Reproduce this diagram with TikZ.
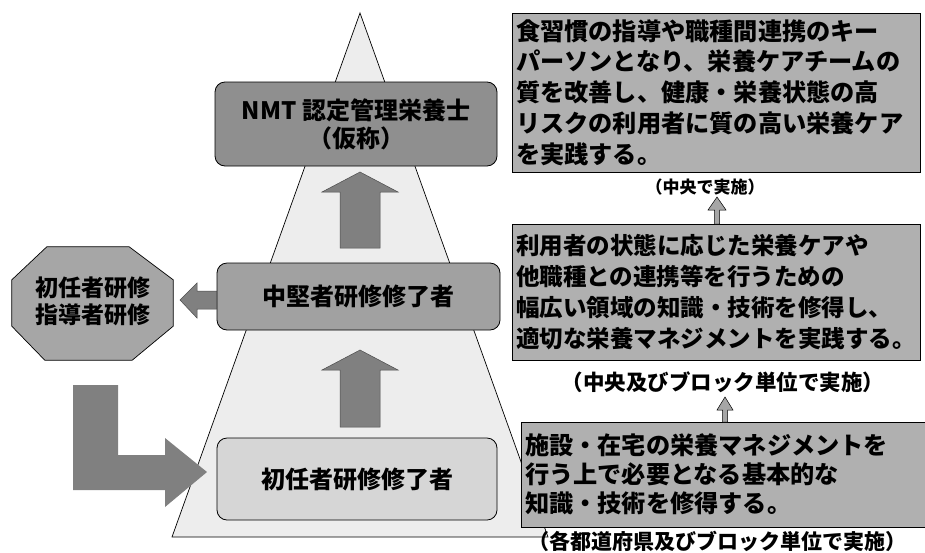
\documentclass[tikz,border=0pt]{standalone}
\usepackage{fontspec}
\setmainfont{Noto Sans CJK JP}
\usetikzlibrary{calc}
\definecolor{trifill}{gray}{0.93}
\definecolor{nmtfill}{gray}{0.56}
\definecolor{midfill}{gray}{0.63}
\definecolor{botfill}{gray}{0.84}
\definecolor{octfill}{gray}{0.65}
\definecolor{rfill}{gray}{0.69}
\definecolor{arrfill}{gray}{0.50}
\begin{document}
\begin{tikzpicture}[x=1pt,y=-1pt,
  lbox/.style={draw=black, line width=0.8pt, rounded corners=10pt, align=center,
    inner sep=0pt, font=\fontsize{24}{28}\selectfont\bfseries},
  rbox/.style={draw=black, line width=0.7pt, fill=rfill, align=left, inner xsep=4pt,
    inner ysep=0pt, font=\fontsize{24.2}{30.8}\selectfont\bfseries},
  lab/.style={inner sep=0pt, font=\fontsize{21.5}{24}\selectfont\bfseries},
  blockarrow/.style={fill=arrfill, draw=black!70, line width=0.5pt},
  smallarrow/.style={fill=gray!70, draw=black, line width=0.5pt}]
\useasboundingbox (0,0) rectangle (925,552);
\fill[white] (0,0) rectangle (925,552);
% pyramid
\draw[fill=trifill, line width=0.7pt] (360,13) -- (172,537) -- (548,537) -- cycle;
% left column boxes
\node[lbox, fill=nmtfill, minimum width=282pt, minimum height=84pt] (nmt) at (356,124)
  {NMT 認定管理栄養士\\（仮称）};
\node[lbox, fill=midfill, minimum width=283pt, minimum height=67pt] (mid) at (358.5,296.5)
  {中堅者研修修了者};
\node[lbox, fill=botfill, minimum width=280pt, minimum height=82pt] (bot) at (357,479)
  {初任者研修修了者};
% octagon
\node[minimum width=161pt, minimum height=113pt, inner sep=0pt] (oct) at (92.5,303.5) {};
\draw[fill=octfill, line width=0.7pt]
  ([yshift=-33pt]oct.north west) -- ([xshift=35pt]oct.north west) --
  ([xshift=-44pt]oct.north east) -- ([yshift=-33pt]oct.north east) --
  ([yshift=34pt]oct.south east) -- ([xshift=-41pt]oct.south east) --
  ([xshift=33pt]oct.south west) -- ([yshift=34pt]oct.south west) -- cycle;
\node[font=\fontsize{23}{27}\selectfont\bfseries, align=center, inner sep=0pt] (octtext)
  at ([yshift=2pt]oct.center) {初任者研修\\指導者研修};
% up arrows
\draw[blockarrow] (340,248) -- (340,192) -- (322,192) -- (360,172) -- (398,192) -- (380,192) -- (380,248) -- cycle;
\draw[blockarrow] (340,427) -- (340,370) -- (322,370) -- (360,350) -- (398,370) -- (380,370) -- (380,427) -- cycle;
% left arrow
\draw[blockarrow] (mid.west |- 0,291) -- (197,291) -- (197,283) -- (180,300) -- (197,318) -- (197,309) -- (mid.west |- 0,309) -- cycle;
% L arrow
\draw[blockarrow, draw=none]
  (73,385) -- (118,385) -- (118,455) -- (165,455) -- (165,438) -- (207,472) --
  (165,507) -- (165,490) -- (73,490) -- cycle;
% right boxes
\node[rbox, text width=400pt, minimum height=159pt] (r1) at (716,92.5)
  {食習慣の指導や職種間連携のキー\\パーソンとなり、栄養ケアチームの\\質を改善し、健康・栄養状態の高\\リスクの利用者に質の高い栄養ケア\\を実践する。};
\node[rbox, text width=400pt, minimum height=136pt, font=\fontsize{23.5}{30.8}\selectfont\bfseries] (r2) at (716,292)
  {利用者の状態に応じた栄養ケアや\\他職種との連携等を行うための\\幅広い領域の知識・技術を修得し、\\適切な栄養マネジメントを実践する。};
\node[rbox, text width=398pt, minimum height=105pt, font=\fontsize{24.2}{29}\selectfont\bfseries] (r3) at (724,474.5)
  {施設・在宅の栄養マネジメントを\\行う上で必要となる基本的な\\知識・技術を修得する。};
% labels
\node[lab, font=\fontsize{17}{19}\selectfont\bfseries] (l1) at (705,187) {（中央で実施）};
\node[lab] (l2) at (723,382) {（中央及びブロック単位で実施）};
\node[lab, font=\fontsize{21}{23}\selectfont\bfseries] (l3) at (717,541.5) {（各都道府県及びブロック単位で実施）};
% small arrows
\draw[smallarrow] (714.5,224) -- (714.5,210) -- (708,210) -- (717,197) -- (726,210) -- (719.5,210) -- (719.5,224) -- cycle;
\draw[smallarrow] (722.5,422) -- (722.5,410) -- (717,410) -- (725,397) -- (733,410) -- (727.5,410) -- (727.5,422) -- cycle;
\end{tikzpicture}
\end{document}
